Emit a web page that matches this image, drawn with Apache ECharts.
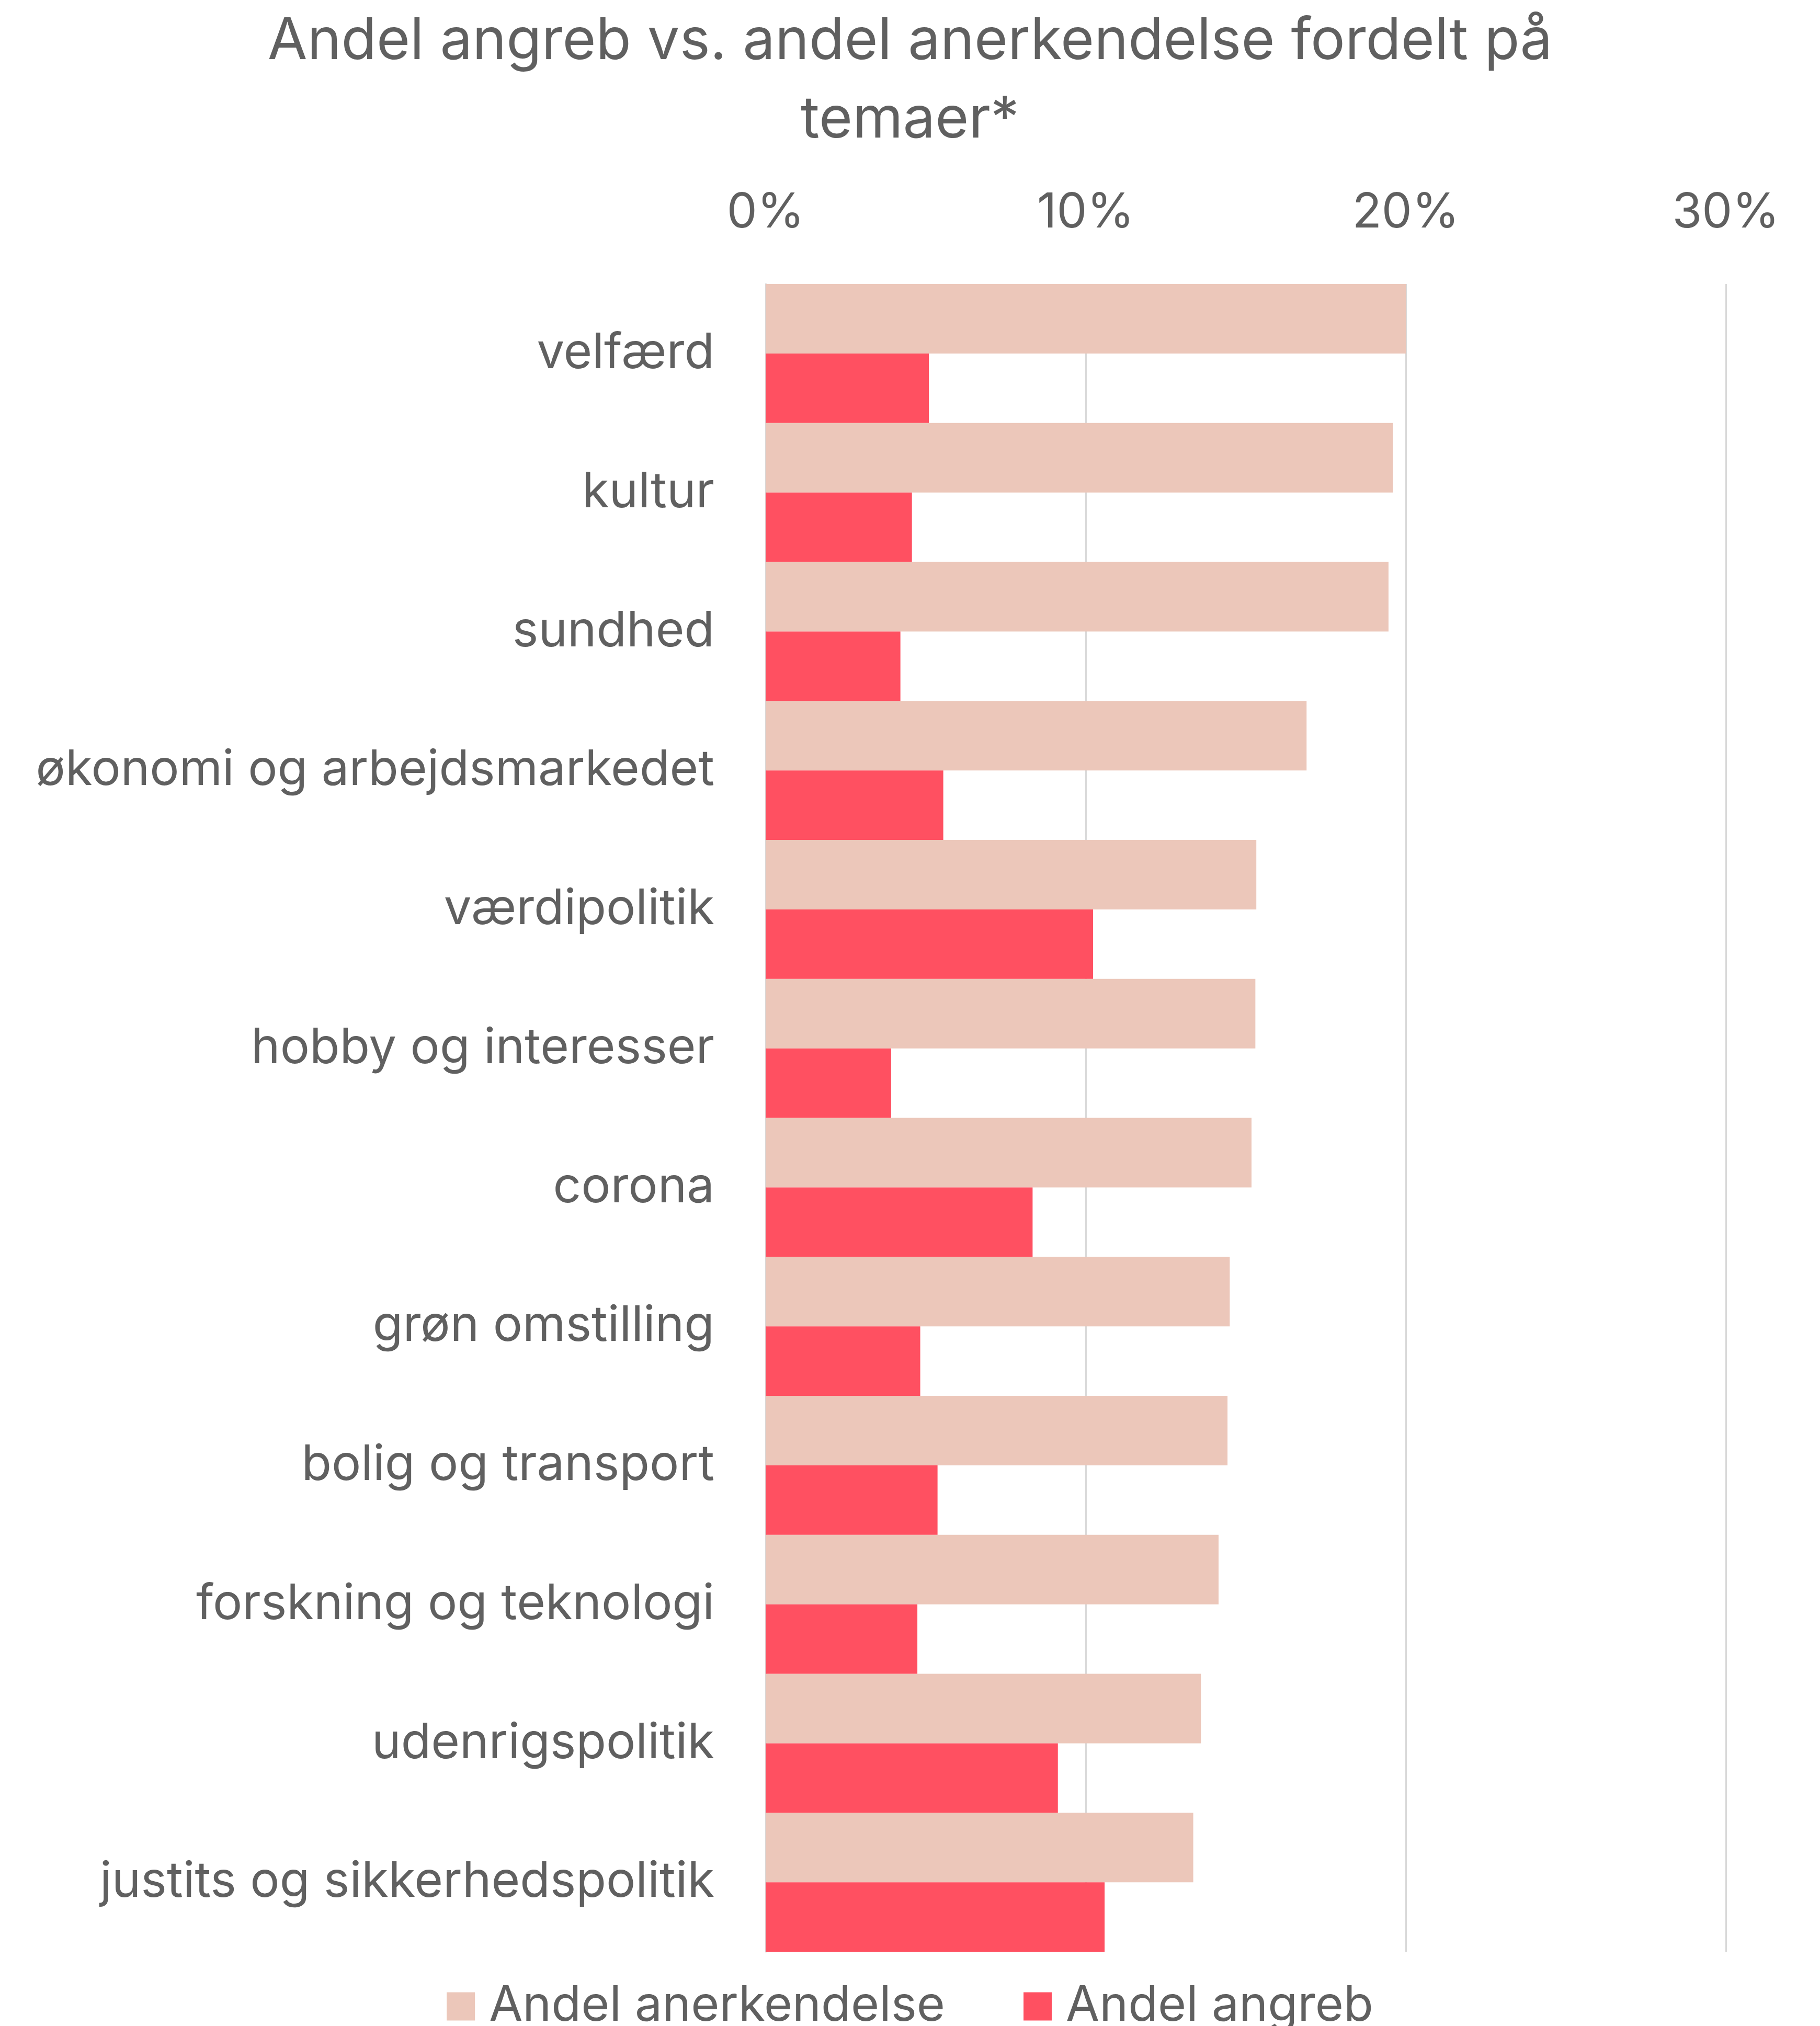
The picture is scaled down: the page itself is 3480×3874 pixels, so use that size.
<!DOCTYPE html>
<html>
<head>
<meta charset="utf-8">
<script src="https://cdn.jsdelivr.net/npm/echarts@6/dist/echarts.min.js"></script>
<style>
html,body{margin:0;padding:0;background:#fff;}
#c{width:3480px;height:3874px;}
</style>
</head>
<body>
<div id="c"></div>
<script>
const titleText = 'Andel angreb vs. andel anerkendelse fordelt på\ntemaer*';
const categories = ['velfærd','kultur','sundhed','økonomi og arbejdsmarkedet','værdipolitik','hobby og interesser','corona','grøn omstilling','bolig og transport','forskning og teknologi','udenrigspolitik','justits og sikkerhedspolitik'];
const seriesNames = ['Andel anerkendelse','Andel angreb'];
const anerkendelse = [20.0, 19.6, 19.46, 16.9, 15.33, 15.3, 15.18, 14.5, 14.43, 14.15, 13.6, 13.36];
const angreb = [5.1, 4.57, 4.21, 5.55, 10.23, 3.92, 8.34, 4.83, 5.37, 4.74, 9.13, 10.59];
const xTicks = [0, 10, 20, 30];

const FONT = 'Inter';
const TXT = '#606060';
const chart = echarts.init(document.getElementById('c'), null, {renderer:'canvas'});
chart.setOption({
  backgroundColor: '#ffffff',
  animation: false,
  title: {
    text: titleText,
    left: 'center',
    top: 0,
    textStyle: {fontFamily: FONT, fontSize: 110, fontWeight: 'normal', color: TXT, lineHeight: 150}
  },
  legend: {
    data: seriesNames,
    bottom: -14,
    left: 'center',
    itemWidth: 54,
    itemHeight: 54,
    itemGap: 150,
    icon: 'rect',
    textStyle: {fontFamily: FONT, fontSize: 93, color: TXT, padding: [0,0,0,22]}
  },
  grid: {left: 1464, right: 180, top: 543, bottom: 142, containLabel: false},
  xAxis: {
    type: 'value',
    position: 'top',
    min: xTicks[0],
    max: xTicks[xTicks.length-1],
    interval: 10,
    axisLine: {show: false},
    axisTick: {show: false},
    splitLine: {show: true, lineStyle: {color: '#d9d9d9', width: 3}},
    axisLabel: {formatter: '{value}%', fontFamily: FONT, fontSize: 92, color: TXT, margin: 90}
  },
  yAxis: {
    type: 'category',
    data: categories,
    inverse: true,
    axisLine: {show: true, lineStyle: {color: '#d9d9d9', width: 3}},
    axisTick: {show: false},
    axisLabel: {fontFamily: FONT, fontSize: 94, color: TXT, margin: 98}
  },
  series: [
    {name: seriesNames[0], type: 'bar', data: anerkendelse, barGap: '0%', barCategoryGap: '0%',
     itemStyle: {color: '#ECC7BA'}},
    {name: seriesNames[1], type: 'bar', data: angreb, barGap: '0%', barCategoryGap: '0%',
     itemStyle: {color: '#FF5061'}}
  ]
});
</script>
</body>
</html>
